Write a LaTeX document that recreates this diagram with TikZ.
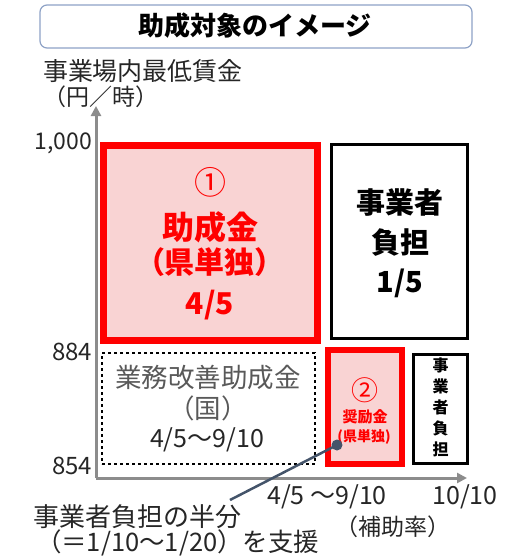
\documentclass[tikz,border=0pt]{standalone}
\usepackage{fontspec}
\setmainfont{Noto Sans CJK JP}
\usetikzlibrary{arrows.meta}
\definecolor{myred}{HTML}{FF0000}
\definecolor{mypink}{HTML}{F9D3D3}
\definecolor{axisgray}{HTML}{8C8C8C}
\definecolor{titleblue}{HTML}{8EA2C6}
\definecolor{pointer}{HTML}{44546A}
\definecolor{textgray}{HTML}{595959}
\definecolor{textdark}{HTML}{262626}
\begin{document}
\begin{tikzpicture}[x=1pt,y=-1pt,
  every node/.style={inner sep=0pt, outer sep=0pt},
  redbox/.style={draw=myred, fill=mypink, line width=7pt, rectangle},
  smallredbox/.style={draw=myred, fill=mypink, line width=6pt, rectangle},
  blackbox/.style={draw=black, line width=3pt, rectangle},
  dashbox/.style={draw=black, dashed, line width=1.3pt, rectangle},
  axisline/.style={draw=axisgray, line width=3pt, -{Triangle[width=10pt,length=10pt]}},
  redtxt/.style={text=myred, font=\bfseries\fontsize{30}{34}\selectfont},
  blacktxt/.style={text=black, font=\bfseries\fontsize{29}{33}\selectfont},
  graytxt/.style={text=textgray, font=\fontsize{26.5}{30}\selectfont},
  labeltxt/.style={text=textdark, font=\fontsize{23}{27}\selectfont},
  ]
\useasboundingbox (0,0) rectangle (531,558);

% title
\node[draw=titleblue, line width=1.2pt, rounded corners=7pt, minimum width=432pt, minimum height=43pt] (title) at (256,26.5) {};
\node[font=\bfseries\fontsize{26}{30}\selectfont, text=black] (titletxt) at (255,26) {助成対象のイメージ};

% y-axis label
\node[labeltxt, font=\fontsize{25}{29}\selectfont, anchor=west] (ylab1) at (43,71) {事業場内最低賃金};
\node[labeltxt, font=\fontsize{23}{27}\selectfont] (ylab2) at (101,97) {（円／時）};

% axes
\coordinate (origin) at (96,478);
\coordinate (xend) at (467,478);
\coordinate (yend) at (96,106);
\draw[axisline] (origin) -- (xend);
\draw[axisline] (origin) -- (yend);

% tick labels
\node[labeltxt, anchor=east] (t1000) at (92,143) {1,000};
\node[labeltxt, font=\fontsize{24}{28}\selectfont, anchor=east] (t884) at (92,352) {884};
\node[labeltxt, font=\fontsize{24}{28}\selectfont, anchor=east] (t854) at (92,466) {854};

% box 1
\node[redbox, minimum width=214pt, minimum height=195pt] (box1) at (210,242.5) {};
\node[text=myred, font=\fontsize{32}{36}\selectfont] (c1) at (210,182) {①};
\node[redtxt, font=\bfseries\fontsize{32}{36}\selectfont] (b1a) at (210,227) {助成金};
\node[redtxt] (b1b) at (210,262) {（県単独）};
\node[redtxt] (b1c) at (210,305) {4/5};

% business share box
\node[blackbox, minimum width=136pt, minimum height=194pt] (box3) at (399.5,241) {};
\node[blacktxt] (b3a) at (400,203) {事業者};
\node[blacktxt] (b3b) at (400,243) {負担};
\node[blacktxt] (b3c) at (400,283) {1/5};

% dashed box
\node[dashbox, minimum width=213pt, minimum height=111pt] (box2) at (208.5,408.5) {};
\node[graytxt] (b2a) at (208,377) {業務改善助成金};
\node[graytxt] (b2b) at (208,408) {（国）};
\node[labeltxt, font=\fontsize{25}{29}\selectfont] (b2c) at (207,440) {4/5～9/10};

% box 2
\node[smallredbox, minimum width=74pt, minimum height=114pt] (box4) at (365,407) {};
\node[text=myred, font=\fontsize{27}{30}\selectfont] (c2) at (365,390) {②};
\node[text=myred, font=\bfseries\fontsize{15}{17}\selectfont] (b4a) at (365,417) {奨励金};
\node[text=myred, font=\bfseries\fontsize{14}{16}\selectfont] (b4b) at (364,437) {(県単独)};

% small business box
\node[blackbox, minimum width=54pt, minimum height=109pt] (box5) at (440.5,409) {};
\node[text=black, font=\bfseries\fontsize{16}{21}\selectfont, align=center] (b5) at (440.5,407) {事\\業\\者\\負\\担};

% x labels
\node[labeltxt, font=\fontsize{25}{29}\selectfont] (x1) at (327,497) {4/5 ～9/10};
\node[labeltxt, font=\fontsize{25}{29}\selectfont] (x2) at (465,497) {10/10};
\node[labeltxt, font=\fontsize{23}{27}\selectfont] (x3) at (393,527) {（補助率）};

% note
\node[labeltxt, font=\fontsize{26}{30}\selectfont, anchor=west] (n1) at (34,517) {事業者負担の半分};
\node[labeltxt, font=\fontsize{25.5}{29}\selectfont, anchor=west] (n2) at (36,543) {（＝1/10～1/20）を支援};

% pointer
\coordinate (dot) at (337,445);
\coordinate (ptrend) at (230,500);
\draw[pointer, line width=2.5pt] (dot) -- (ptrend);
\fill[pointer] (dot) circle (5.5pt);
\end{tikzpicture}
\end{document}
